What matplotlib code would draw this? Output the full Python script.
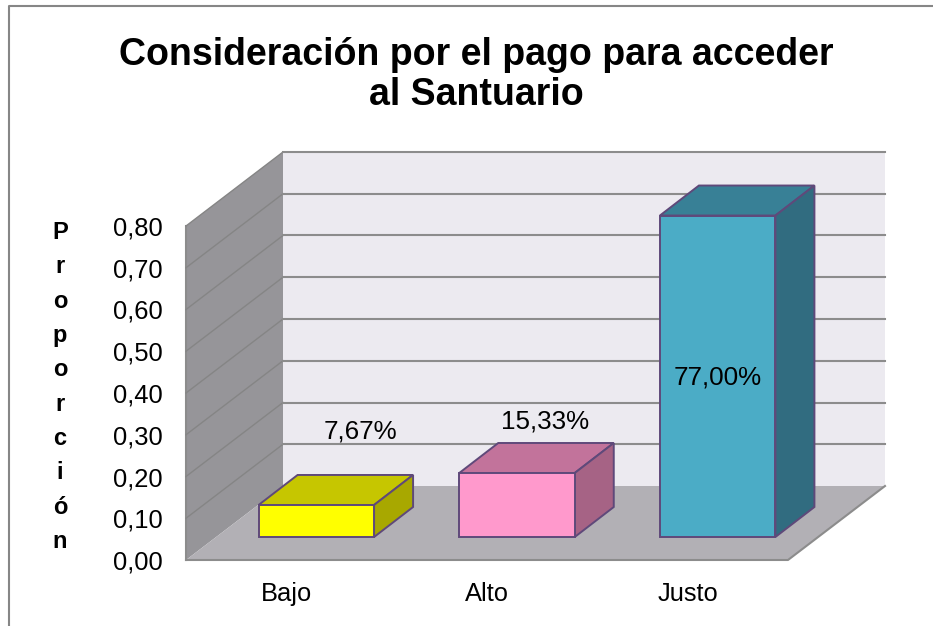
import matplotlib
matplotlib.use("Agg")
import matplotlib.pyplot as plt
from matplotlib.lines import Line2D

categories = ["Bajo", "Alto", "Justo"]
values = [0.0767, 0.1533, 0.77]
value_labels = ["7,67%", "15,33%", "77,00%"]
ticks = [0.0, 0.1, 0.2, 0.3, 0.4, 0.5, 0.6, 0.7, 0.8]
front_colors = ["#FFFF00", "#FF99CC", "#4BACC6"]
top_colors = ["#C6C600", "#C2739B", "#388096"]
side_colors = ["#A8A800", "#A66385", "#316C80"]

W, H = 933, 626
plt.rcParams["font.family"] = ["Liberation Sans", "DejaVu Sans"]
fig = plt.figure(figsize=(W / 100, H / 100), dpi=100, facecolor="white")
# chart frame is cut off at the right and bottom of the picture
fig.add_artist(Line2D([8.5 / W, 8.5 / W, 1], [0, 1 - 5.5 / H, 1 - 5.5 / H], transform=fig.transFigure,
                      color="#868686", lw=1.5))

# x0..x3 spans 186..788 px, 0..0.8 spans 560..226 px
ax = fig.add_axes([186 / W, (H - 560) / H, 602 / W, 334 / H])
ax.set_xlim(0, 3); ax.set_ylim(0, 0.8)
ax.patch.set_visible(False)
for s in ax.spines.values():
    s.set_visible(False)

px_x = 3 / 602; px_y = 0.8 / 334
wall_dx, wall_dy = 97 * px_x, 74 * px_y      # depth of the floor
gap_dx, gap_dy = 30 * px_x, 23 * px_y        # bar front is set back from the axis
bar_dx, bar_dy = 39 * px_x, 30 * px_y        # bar depth
bar_w = 115.5 * px_x

kw = dict(clip_on=False, lw=0)
ax.fill([0, wall_dx, wall_dx, 0], [0, wall_dy, 0.8 + wall_dy, 0.8], color="#969599", zorder=1, **kw)
ax.fill([wall_dx, 3 + wall_dx, 3 + wall_dx, wall_dx], [wall_dy, wall_dy, 0.8 + wall_dy, 0.8 + wall_dy],
        color="#ECEAF0", zorder=1, **kw)
ax.fill([0, 3, 3 + wall_dx, wall_dx], [0, 0, wall_dy, wall_dy], color="#B2B0B5", zorder=1, **kw)
ax.plot([0, 3, 3 + wall_dx], [0, 0, wall_dy], color="#8C8C8C", lw=1.5, clip_on=False, zorder=2)
ax.plot([0, 0], [0, 0.8], color="#8C8C8C", lw=1.5, clip_on=False, zorder=2)

for t in ticks:
    if t > 0:
        ax.plot([0, wall_dx], [t, t + wall_dy], color="#858585", lw=1.0, clip_on=False, zorder=2)
        ax.plot([wall_dx, 3 + wall_dx], [t + wall_dy, t + wall_dy], color="#8C8C8C", lw=1.5,
                clip_on=False, zorder=2)

edge = "#5F497A"
centers = [i + 0.5 for i in range(len(values))]
ax.bar([c + gap_dx for c in centers], values, width=bar_w, bottom=gap_dy, color=front_colors,
       edgecolor=edge, linewidth=1.4, zorder=4, clip_on=False)
for c, v, top, side in zip(centers, values, top_colors, side_colors):
    l = c + gap_dx - bar_w / 2
    r = l + bar_w
    b = gap_dy
    h = gap_dy + v
    ax.fill([l, r, r + bar_dx, l + bar_dx], [h, h, h + bar_dy, h + bar_dy], fc=top, ec=edge, lw=1.4,
            clip_on=False, zorder=3)
    ax.fill([r, r + bar_dx, r + bar_dx, r], [b, b + bar_dy, h + bar_dy, h], fc=side, ec=edge, lw=1.4,
            clip_on=False, zorder=3)

# data labels, offsets in px from the bar's front top centre
label_off = [(44, 73), (28, 51), (0, -162)]
for c, v, txt, (ox, oy) in zip(centers, values, value_labels, label_off):
    ax.annotate(txt, (c + gap_dx, gap_dy + v), xytext=(ox * 0.72, oy * 0.72),
                textcoords="offset points", ha="center", va="center", fontsize=18.7, zorder=6,
                annotation_clip=False)

ax.set_yticks(ticks)
ax.set_yticklabels([f"{t:.2f}".replace(".", ",") for t in ticks], fontsize=18.4)
ax.set_xticks(centers)
ax.set_xticklabels(categories, fontsize=18.4)
ax.tick_params(axis="y", length=0, pad=17)
ax.tick_params(axis="x", length=0, pad=16)

fig.text(476.5 / W, 1 - 75 / H, "Consideración por el pago para acceder\nal Santuario", ha="center", va="center",
         fontsize=27, fontweight="bold", linespacing=1.16)
fig.text(60 / W, 1 - 387 / H, "\n".join("Proporción"), ha="center", va="center", fontsize=17,
         fontweight="bold", linespacing=1.63)

fig.savefig("out.png", dpi=100)
